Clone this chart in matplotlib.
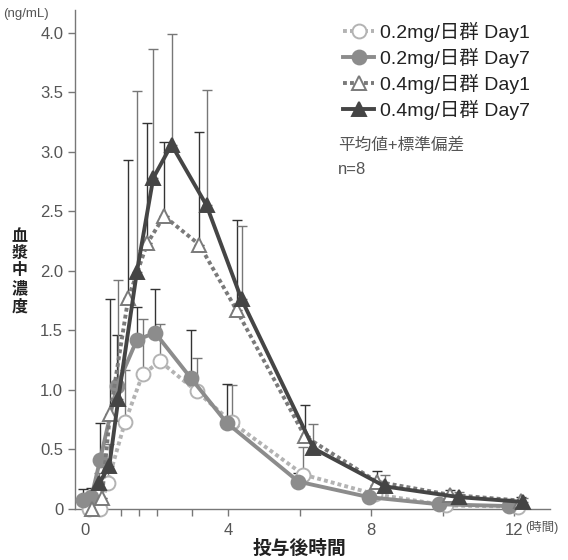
import numpy as np
import matplotlib
matplotlib.use('Agg')
import matplotlib.pyplot as plt

plt.rcParams['font.family'] = ['Liberation Sans', 'Noto Sans CJK JP', 'DejaVu Sans']

# データ
labels = ['0.2mg/日群 Day1', '0.2mg/日群 Day7', '0.4mg/日群 Day1', '0.4mg/日群 Day7']

t_a = [0.12, 0.42, 0.63, 1.12, 1.61, 2.10, 3.12, 4.10, 6.10, 8.10, 10.1, 12.1]
a = [0.0, 0.0, 0.22, 0.73, 1.13, 1.24, 0.99, 0.73, 0.29, 0.125, 0.03, 0.02]
a_up = [0.0, 0.0, 0.33, 1.17, 1.60, 1.55, 1.27, 1.04, 0.52, 0.20, 0.06, 0.04]

t_b = [-0.06, 0.18, 0.42, 0.89, 1.45, 1.96, 2.96, 3.96, 5.97, 7.94, 9.90, 11.85]
b = [0.08, 0.10, 0.41, 1.03, 1.42, 1.48, 1.10, 0.725, 0.23, 0.10, 0.04, 0.025]
b_up = [0.165, 0.18, 0.72, 1.46, 1.70, 1.85, 1.50, 1.05, 0.30, 0.13, 0.06, 0.04]

t_c = [0.19, 0.47, 0.70, 1.21, 1.74, 2.21, 3.20, 4.24, 6.15, 8.16, 10.2, 12.2]
c = [0.0, 0.09, 0.80, 1.77, 2.23, 2.46, 2.22, 1.67, 0.61, 0.23, 0.12, 0.07]
c_up = [0.0, 0.20, 1.76, 2.93, 3.24, 3.08, 3.17, 2.43, 0.87, 0.32, 0.16, 0.10]

t_d = [0.40, 0.68, 0.93, 1.45, 1.91, 2.42, 3.40, 4.38, 6.39, 8.39, 10.46, 12.25]
d = [0.22, 0.36, 0.92, 1.99, 2.78, 3.06, 2.55, 1.76, 0.51, 0.19, 0.10, 0.06]
d_up = [0.30, 0.55, 1.92, 3.51, 3.86, 3.99, 3.52, 2.38, 0.71, 0.29, 0.14, 0.09]

fig = plt.figure(figsize=(5.68, 5.6), dpi=100)
ax = fig.add_axes([0.132, 0.091, 0.836, 0.891])

series = [
    (t_a, a, a_up, '#b3b3b3', 'o', 'white', (0, (1, 0.8)), '#777777'),
    (t_b, b, b_up, '#8c8c8c', 'o', '#8c8c8c', '-', '#333333'),
    (t_c, c, c_up, '#7a7a7a', '^', 'white', (0, (1, 0.8)), '#333333'),
    (t_d, d, d_up, '#454545', '^', '#454545', '-', '#777777'),
]

for i, (t, v, up, col, mk, fc, ls, ecol) in enumerate(series):
    t = np.array(t)
    v = np.array(v)
    up = np.array(up)
    err = np.clip(up - v, 0, None)
    mask = err > 0.005
    ax.errorbar(t[mask], v[mask], yerr=[np.zeros(mask.sum()), err[mask]], fmt='none',
                ecolor=ecol, elinewidth=1.0, capsize=3.8, capthick=1.0, zorder=2)
    ax.plot(t, v, color=col, lw=2.8, ls=ls, dash_capstyle='butt', marker=mk,
            markersize=10, markerfacecolor=fc, markeredgecolor=col, markeredgewidth=1.4,
            label=labels[i], zorder=3 + i, clip_on=False)

ax.set_xlim(-0.28, 13.0)
ax.set_ylim(0, 4.19)

for s in ['top', 'right']:
    ax.spines[s].set_visible(False)
for s in ['left', 'bottom']:
    ax.spines[s].set_color('#777777')
    ax.spines[s].set_linewidth(1.0)

ax.set_yticks(np.arange(0, 4.01, 0.5))
ax.set_yticklabels(['0', '0.5', '1.0', '1.5', '2.0', '2.5', '3.0', '3.5', '4.0'])
ax.set_xticks([0, 4, 8, 12])
ax.set_xticklabels(['0', '4', '8', '12'])
ax.set_xticks([1, 1.5, 2, 3, 6, 10], minor=True)
ax.tick_params(axis='both', which='both', direction='out', length=5, width=1,
               color='#777777', labelcolor='#555555', labelsize=12)
ax.tick_params(axis='x', pad=5)

fig.text(0.005, 0.975, '(ng/mL)', fontsize=9.5, color='#555555', ha='left', va='center')
fig.text(0.925, 0.058, '(時間)', fontsize=9, color='#555555', ha='left', va='center')
fig.text(0.035, 0.515, '血\n漿\n中\n濃\n度', fontsize=11.5, fontweight='bold',
         ha='center', va='center', linespacing=1.2, color='#222222')
fig.text(0.528, 0.02, '投与後時間', fontsize=13.5, fontweight='bold', ha='center',
         va='center', color='#222222')

leg = ax.legend(loc='upper left', bbox_to_anchor=(0.58, 0.985), bbox_transform=fig.transFigure,
                frameon=False, fontsize=14, handlelength=1.6, handletextpad=0.3,
                labelspacing=0.3, borderpad=0.2)
for txt in leg.get_texts():
    txt.set_color('#222222')

fig.text(0.595, 0.742, '平均値+標準偏差', fontsize=12, color='#555555', ha='left', va='center')
fig.text(0.595, 0.697, 'n=8', fontsize=12, color='#555555', ha='left', va='center')

fig.savefig('out.png', dpi=100)
